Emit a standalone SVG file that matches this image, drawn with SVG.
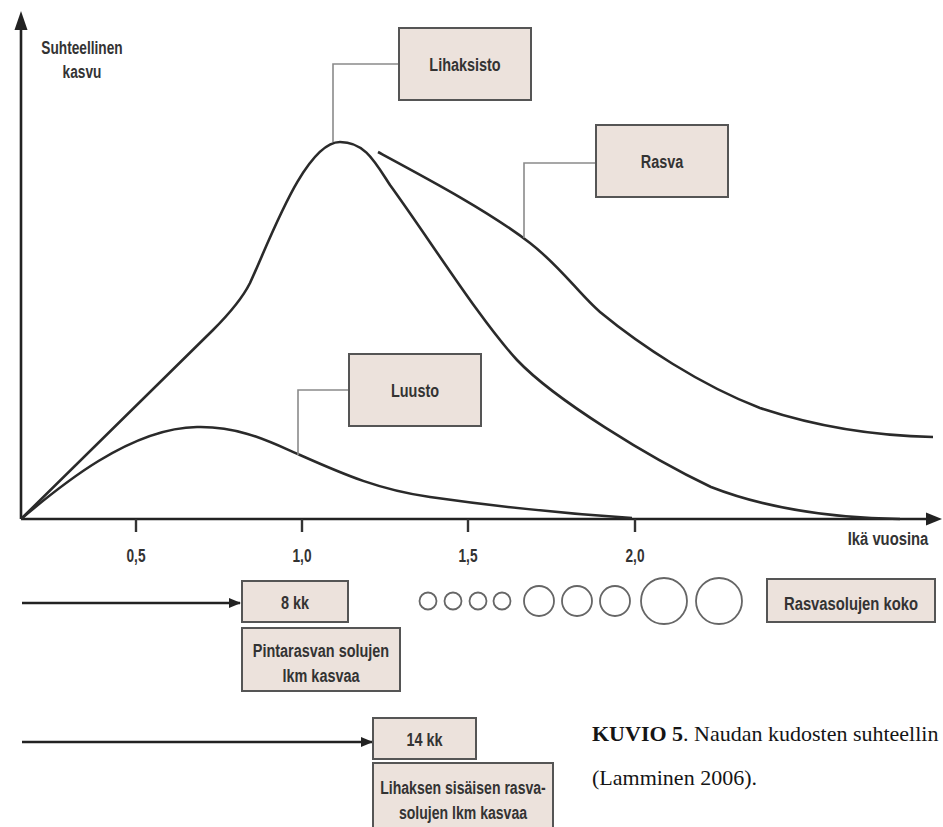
<svg xmlns="http://www.w3.org/2000/svg" width="943" height="827" viewBox="0 0 943 827">
<style>
.lbl{font-family:"Liberation Sans",Arial,sans-serif;font-weight:bold;font-size:19px;fill:#333;text-anchor:middle}
.box{fill:#ece2dc;stroke:#555;stroke-width:2}
.lead{fill:none;stroke:#8a8a8a;stroke-width:1.6}
.axis{fill:none;stroke:#222;stroke-width:2.6}
.curve{fill:none;stroke:#2a2a2a;stroke-width:2.6;stroke-linejoin:round}
.tick{stroke:#333;stroke-width:2.4}
.cell{fill:none;stroke:#666;stroke-width:1.8}
.arr{fill:none;stroke:#222;stroke-width:2.6}
.cap{font-family:"Liberation Serif","Times New Roman",serif;fill:#151515;font-size:22px}
</style>
<defs>
<marker id="ah" viewBox="0 0 12 10" refX="11" refY="5" markerWidth="12" markerHeight="10" markerUnits="userSpaceOnUse" orient="auto">
<path d="M0,0 L12,5 L0,10 Z" fill="#222"/>
</marker>
</defs>
<rect width="943" height="827" fill="#fff"/>
<g id="axes">
<path class="axis" d="M21,519 V24"/>
<path d="M21,11 L14.5,30 L27.5,30 Z" fill="#222"/>
<path class="axis" d="M21,519 H928"/>
<path d="M942,519 L926,512.5 L926,525.5 Z" fill="#222"/>
<line class="tick" x1="136" y1="519" x2="136" y2="532"/>
<line class="tick" x1="302" y1="519" x2="302" y2="532"/>
<line class="tick" x1="468" y1="519" x2="468" y2="532"/>
<line class="tick" x1="635" y1="519" x2="635" y2="532"/>
<text class="lbl" transform="translate(136,562) scale(0.72,1)">0,5</text>
<text class="lbl" transform="translate(302,562) scale(0.72,1)">1,0</text>
<text class="lbl" transform="translate(468,562) scale(0.72,1)">1,5</text>
<text class="lbl" transform="translate(635,562) scale(0.72,1)">2,0</text>
<text class="lbl" transform="translate(888,545) scale(0.78,1)">Ikä vuosina</text>
<text class="lbl" transform="translate(82,54) scale(0.72,1)">Suhteellinen</text>
<text class="lbl" transform="translate(82,78) scale(0.72,1)">kasvu</text>
</g>
<g id="curves">
<path id="curve-luusto" class="curve" d="M21,519 C60,486 130,428 197,427 C240,426 270,442 300,455 C345,475 380,490 430,497 C500,507 570,514 632,518"/>
<path id="curve-lihaksisto" class="curve" d="M21,519 L213,330 C230,313 243,297 250,283 C270,240 305,142 340,142 C365,142 375,162 390,185 C430,240 480,320 517,360 C555,400 650,458 711,487 C770,510 840,518 900,519"/>
<path id="curve-rasva" class="curve" d="M378,152 C430,180 490,212 530,243 C560,266 580,295 600,312 C640,345 700,385 760,408 C820,428 880,436 933,437"/>
</g>
<g id="connectors">
<polyline class="lead" points="399,64 333,64 333,142"/>
<polyline class="lead" points="596,163 524,163 524,238"/>
<polyline class="lead" points="349,390 298,390 298,455"/>
<line class="arr" x1="22" y1="603" x2="240" y2="603" marker-end="url(#ah)"/>
<line class="arr" x1="22" y1="742" x2="372" y2="742" marker-end="url(#ah)"/>
</g>
<g id="node-lihaksisto">
<rect class="box" x="399" y="28" width="132" height="72"/>
<text class="lbl" transform="translate(465,71) scale(0.76,1)">Lihaksisto</text>
</g>
<g id="node-rasva">
<rect class="box" x="596" y="125" width="132" height="72"/>
<text class="lbl" transform="translate(662,168) scale(0.76,1)">Rasva</text>
</g>
<g id="node-luusto">
<rect class="box" x="349" y="354" width="132" height="72"/>
<text class="lbl" transform="translate(415,397) scale(0.76,1)">Luusto</text>
</g>
<g id="node-8kk">
<rect class="box" x="242" y="581" width="106" height="41"/>
<text class="lbl" transform="translate(295,609) scale(0.76,1)">8 kk</text>
</g>
<g id="node-pintarasva">
<rect class="box" x="242" y="628" width="158" height="63"/>
<text class="lbl" transform="translate(321,657) scale(0.76,1)">Pintarasvan solujen</text>
<text class="lbl" transform="translate(321,682) scale(0.76,1)">lkm kasvaa</text>
</g>
<g id="node-14kk">
<rect class="box" x="373" y="718" width="103" height="41"/>
<text class="lbl" transform="translate(424.5,746) scale(0.76,1)">14 kk</text>
</g>
<g id="node-lihaksen">
<rect class="box" x="373" y="763" width="180" height="72"/>
<text class="lbl" transform="translate(463,794) scale(0.74,1)">Lihaksen sisäisen rasva-</text>
<text class="lbl" transform="translate(463,819) scale(0.74,1)">solujen lkm kasvaa</text>
</g>
<g id="fat-cells">
<circle class="cell" cx="428" cy="601" r="8.5"/>
<circle class="cell" cx="453" cy="601" r="8.5"/>
<circle class="cell" cx="478" cy="601" r="8.5"/>
<circle class="cell" cx="502" cy="601" r="8.5"/>
<circle class="cell" cx="539" cy="601" r="15"/>
<circle class="cell" cx="577" cy="601" r="15"/>
<circle class="cell" cx="615" cy="601" r="15"/>
<circle class="cell" cx="664" cy="601" r="23"/>
<circle class="cell" cx="719" cy="601" r="23"/>
</g>
<g id="node-rasvasolujen">
<rect class="box" x="767" y="579" width="168" height="43"/>
<text class="lbl" transform="translate(851,610) scale(0.78,1)">Rasvasolujen koko</text>
</g>
<g id="caption">
<text class="cap" x="592" y="741"><tspan font-weight="bold">KUVIO 5</tspan>. Naudan kudosten suhteellin</text>
<text class="cap" x="592" y="785">(Lamminen 2006).</text>
</g>
</svg>
